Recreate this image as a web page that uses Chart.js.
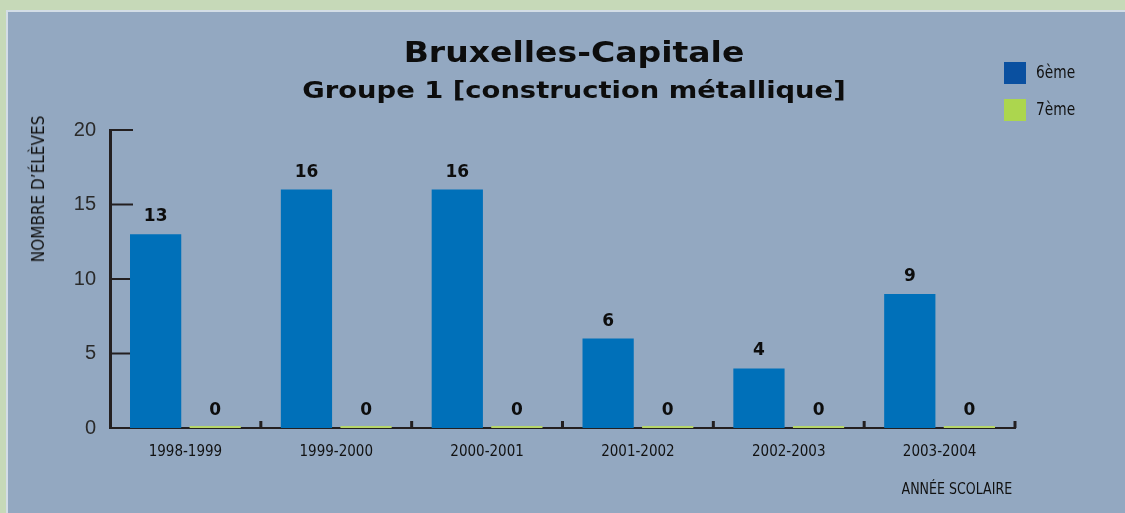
<!DOCTYPE html>
<html>
<head>
<meta charset="utf-8">
<script src="https://cdn.jsdelivr.net/npm/chart.js@4.4.0/dist/chart.umd.min.js"></script>
<style>
  html, body { margin:0; padding:0; }
  body { width:1125px; height:513px; background:#c6d9b8; position:relative; overflow:hidden; }
  #panel { position:absolute; left:6px; top:10px; width:1125px; height:520px; background:#93a8c1; border-left:2px solid #d3dde6; border-top:2px solid #d3dde6; box-sizing:border-box; }
  #wrap { position:absolute; left:0; top:0; width:1125px; height:513px; }
  .t { position:absolute; white-space:nowrap; color:#0d0d0d; }
  #title { font-family:"DejaVu Sans"; font-weight:bold; font-size:29px; left:574px; top:35px; transform:translateX(-50%) scaleX(1.14); }
  #subtitle { font-family:"DejaVu Sans"; font-weight:bold; font-size:23px; left:574px; top:77px; transform:translateX(-50%) scaleX(1.19); }
  .lg { position:absolute; width:22px; height:22px; }
  .cond { font-family:"DejaVu Sans Condensed", "DejaVu Sans"; font-stretch:condensed; color:#111; }
  .lgt { font-size:18px; position:absolute; transform-origin:0 50%; transform:scaleX(0.85); }
  #ytitle { font-size:17px; left:38px; top:189px; transform:translate(-50%,-50%) rotate(-90deg); }
  #xtitle { font-size:16.5px; right:113px; top:479px; transform-origin:100% 50%; transform:scaleX(0.85); }
</style>
</head>
<body>
<div id="panel"></div>
<div id="wrap"><canvas id="c" width="1125" height="513"></canvas></div>
<div class="t" id="title">Bruxelles-Capitale</div>
<div class="t" id="subtitle">Groupe 1 [construction métallique]</div>
<div class="lg" style="left:1004px;top:62px;background:#0a50a0"></div>
<div class="lgt cond" style="left:1036px;top:61px;">6ème</div>
<div class="lg" style="left:1004px;top:99px;background:#acd64e"></div>
<div class="lgt cond" style="left:1036px;top:98px;">7ème</div>
<div class="t cond" id="ytitle">NOMBRE D’ÉLÈVES</div>
<div class="t cond" id="xtitle">ANNÉE SCOLAIRE</div>
<script>
const categories = ["1998-1999", "1999-2000", "2000-2001", "2001-2002", "2002-2003", "2003-2004"];
const sixieme = [13, 16, 16, 6, 4, 9];
const septieme = [0, 0, 0, 0, 0, 0];
const yTicks = [0, 5, 10, 15, 20];
const seriesNames = ["6ème", "7ème"];

const AXIS = '#231f20';

const tickPlugin = {
  id: 'customTicks',
  beforeDatasetsDraw(chart) {
    const ctx = chart.ctx;
    const x = chart.scales.x, y = chart.scales.y;
    const ca = chart.chartArea;
    ctx.save();
    ctx.strokeStyle = AXIS;
    ctx.lineWidth = 2;
    yTicks.forEach(v => {
      if (v === 0) return;
      const py = y.getPixelForValue(v);
      ctx.beginPath();
      ctx.moveTo(ca.left, py);
      ctx.lineTo(ca.left + 23, py);
      ctx.stroke();
    });
    ctx.lineWidth = 3;
    const step = x.getPixelForValue(1) - x.getPixelForValue(0);
    for (let i = 0; i < categories.length; i++) {
      const px = x.getPixelForValue(i) + step / 2;
      ctx.beginPath();
      ctx.moveTo(px, ca.bottom);
      ctx.lineTo(px, ca.bottom - 7);
      ctx.stroke();
    }
    ctx.restore();
  },
  afterDatasetsDraw(chart) {
    const ctx = chart.ctx;
    ctx.save();
    ctx.fillStyle = '#0d0d0d';
    ctx.font = 'bold 17px "DejaVu Sans"';
    ctx.textAlign = 'center';
    ctx.textBaseline = 'alphabetic';
    chart.data.datasets.forEach((ds, di) => {
      const meta = chart.getDatasetMeta(di);
      meta.data.forEach((bar, i) => {
        const base = chart.scales.y.getPixelForValue(ds.data[i]);
        ctx.fillText(String(ds.data[i]), bar.x, base - 13);
      });
    });
    ctx.restore();
  }
};

new Chart(document.getElementById('c'), {
  type: 'bar',
  data: {
    labels: categories,
    datasets: [
      { label: seriesNames[0], data: sixieme, backgroundColor: '#0070b9', categoryPercentage: 0.79, barPercentage: 0.86 },
      { label: seriesNames[1], data: septieme, backgroundColor: '#b7d66a', categoryPercentage: 0.79, barPercentage: 0.86, minBarLength: 2 }
    ]
  },
  options: {
    responsive: false,
    animation: false,
    layout: { padding: { left: 50, right: 110, top: 130, bottom: 25 } },
    plugins: { legend: { display: false }, title: { display: false }, tooltip: { enabled: false } },
    scales: {
      x: {
        grid: { display: false, drawTicks: false },
        border: { display: true, color: AXIS, width: 2 },
        ticks: { color: '#111', font: { family: '"DejaVu Sans Condensed", "DejaVu Sans"', size: 15 }, padding: 15 },
        afterFit(s) { s.height = 60; }
      },
      y: {
        min: 0, max: 20,
        afterBuildTicks(s) { s.ticks = yTicks.map(v => ({ value: v })); },
        grid: { display: false, drawTicks: false },
        border: { display: true, color: AXIS, width: 3 },
        ticks: { color: '#2a2a2a', font: { family: 'Liberation Sans', size: 20 }, padding: 14 },
        afterFit(s) { s.width = 60; }
      }
    }
  },
  plugins: [tickPlugin]
});
</script>
</body>
</html>
